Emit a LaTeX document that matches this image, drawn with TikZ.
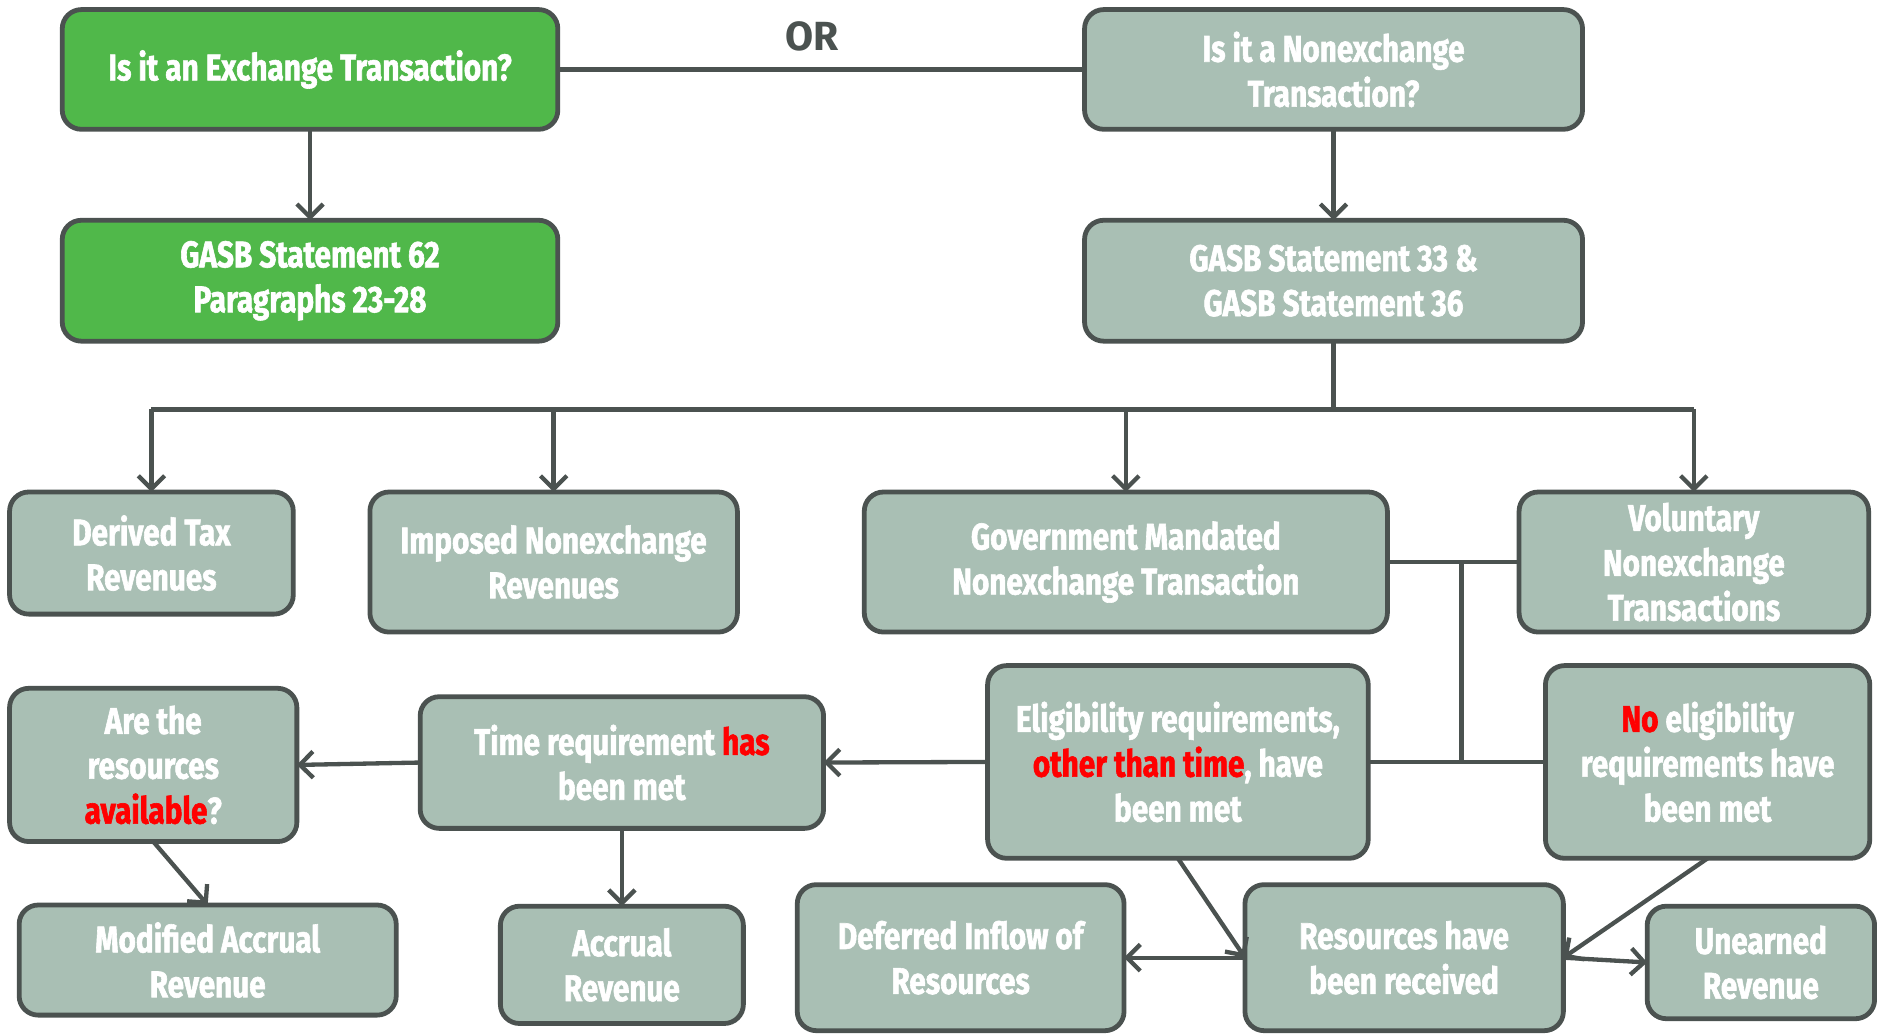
\documentclass[tikz,border=0pt]{standalone}
\usepackage{fontspec}
\setmainfont[FakeStretch=0.8,FakeBold=1.6]{Fira Sans}
\newfontfamily\orfont{Fira Sans}
\usetikzlibrary{arrows.meta}
\definecolor{boxgreen}{HTML}{50B84A}
\definecolor{boxgray}{HTML}{A9BFB4}
\definecolor{edgegray}{HTML}{4B5250}
\definecolor{hired}{HTML}{FF0000}
\newcommand{\hl}[1]{\textcolor{hired}{#1}}
\tikzset{
  box/.style={draw=edgegray, line width=4pt, rounded corners=16pt, fill=boxgray,
    text=white, align=center, inner sep=0pt, outer sep=0pt,
    font=\bfseries\fontsize{31}{37.5}\selectfont},
  gbox/.style={box, fill=boxgreen},
  conn/.style={draw=edgegray, line width=3.6pt},
  arr/.style={conn, -{Straight Barb[length=11pt,width=22pt,line width=3.6pt]}},
}
\begin{document}
\begin{tikzpicture}[x=1pt,y=-1pt]
\useasboundingbox (0,0) rectangle (1568,863);
% top row
\node[gbox, minimum width=414pt, minimum height=100pt] (ex) at (259,58) {Is it an Exchange Transaction?};
\node[box, minimum width=416pt, minimum height=100pt] (nx) at (1114,58) {Is it a Nonexchange\\Transaction?};
\node[gbox, minimum width=414pt, minimum height=101pt] (g62) at (259,234.5) {GASB Statement 62\\Paragraphs 23-28};
\node[box, minimum width=416pt, minimum height=101pt] (g33) at (1114,234.5) {GASB Statement 33 \&\\GASB Statement 36};
\node[text=edgegray, font=\orfont\bfseries\fontsize{34}{40}\selectfont] (or) at (678,30) {OR};
% second row
\node[box, minimum width=237pt, minimum height=102pt] (dt) at (126.5,462) {Derived Tax\\Revenues};
\node[box, minimum width=307pt, minimum height=117pt] (im) at (462.5,469.5) {Imposed Nonexchange\\Revenues};
\node[box, minimum width=437pt, minimum height=117pt] (gm) at (940.5,469.5) {Government Mandated\\Nonexchange Transaction};
\node[box, minimum width=292pt, minimum height=117pt] (vo) at (1415,469.5) {Voluntary\\Nonexchange\\Transactions};
% third row
\node[box, minimum width=240pt, minimum height=128pt] (ar) at (128,639) {Are the\\resources\\\hl{available}?};
\node[box, minimum width=337pt, minimum height=110pt] (tr) at (519.5,637) {Time requirement \hl{has}\\been met};
\node[box, minimum width=318pt, minimum height=161pt] (el) at (984,636.5) {Eligibility requirements,\\\hl{other than time}, have\\been met};
\node[box, minimum width=271pt, minimum height=161pt] (ne) at (1426.5,636.5) {\hl{No} eligibility\\requirements have\\been met};
% bottom row
\node[box, minimum width=315pt, minimum height=92pt] (ma) at (173.5,802) {Modified Accrual\\Revenue};
\node[box, minimum width=203pt, minimum height=98pt] (ac) at (519.5,806) {Accrual\\Revenue};
\node[box, minimum width=273pt, minimum height=122pt] (di) at (802.5,800) {Deferred Inflow of\\Resources};
\node[box, minimum width=266pt, minimum height=122pt] (rr) at (1173,800) {Resources have\\been received};
\node[box, minimum width=190pt, minimum height=94pt] (un) at (1471,804) {Unearned\\Revenue};
% connectors
\coordinate (bus) at (1114,342);
\coordinate (busL) at (126.5,342);
\coordinate (busR) at (1415,342);
\coordinate (j1) at (1221,469.5);
\coordinate (j2) at (1221,636.5);
\draw[conn] (ex.east) -- (nx.west);
\draw[arr] (ex.south) -- (g62.north);
\draw[arr] (nx.south) -- (g33.north);
\draw[conn] (g33.south) -- (bus);
\draw[conn] (busL) -- (busR);
\draw[arr] (busL) -- (dt.north);
\draw[arr] (im.north |- bus) -- (im.north);
\draw[arr] (gm.north |- bus) -- (gm.north);
\draw[arr] (busR) -- (vo.north);
\draw[conn] (gm.east) -- (vo.west);
\draw[conn] (j1) -- (j2);
\draw[conn] (el.east) -- (ne.west);
\draw[arr] (el.west) -- (tr.east);
\draw[arr] (tr.west) -- (ar.east);
\draw[arr] (ar.south) -- (ma.north);
\draw[arr] (tr.south) -- (ac.north);
\draw[arr] (el.south) -- (rr.west);
\draw[arr] (ne.south) -- (rr.east);
\draw[arr] (rr.west) -- (di.east);
\draw[arr] (rr.east) -- (un.west);
\end{tikzpicture}
\end{document}
